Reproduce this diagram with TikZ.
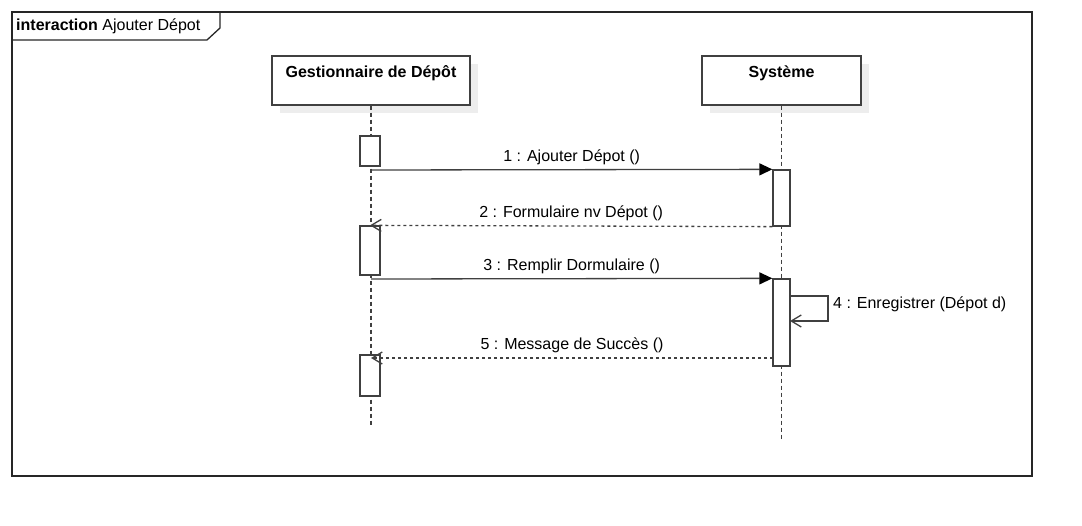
\documentclass[tikz,border=0pt]{standalone}
\usepackage{fontspec}
\setmainfont{Liberation Sans}
\usetikzlibrary{arrows.meta,shadows}

\begin{document}
\begin{tikzpicture}[x=1pt,y=-1pt,font=\fontsize{16}{19}\selectfont,
	lifebox/.style={draw=black!75,line width=1.3pt,fill=white,inner sep=0pt,text height=22pt,text depth=27pt,font=\fontsize{16}{19}\selectfont\bfseries,general shadow={fill=black!7,shadow xshift=8pt,shadow yshift=-8pt}},
	actbox/.style={draw=black!75,line width=1.3pt,fill=white,inner sep=0pt},
	lifeline/.style={draw=black!75,line width=1.3pt,dash pattern=on 4pt off 3pt},
	call/.style={draw=black!75,line width=1.3pt,-{Triangle[length=13pt,width=12pt,color=black]}},
	reply/.style={draw=black!75,line width=1.3pt,dash pattern=on 3pt off 3pt,-{Straight Barb[length=10pt,width=12pt]}},
	selfcall/.style={draw=black!75,line width=1.3pt,-{Straight Barb[length=10pt,width=12pt]}},
	msglabel/.style={anchor=base,yshift=8pt,inner sep=0pt}]
	%Page
		\useasboundingbox (0,0) rectangle (1082,526);
	%Frame
		%Border
		\draw [line width=1.3pt,black!85] (12,12) rectangle (1032,476);
		%Tab
		\draw [line width=1.3pt,black!85] (12,40) -- (207,40) -- (220,28) -- (220,12);
		\node (title) [anchor=base west,inner sep=0pt] at (16,31) {\textbf{interaction} Ajouter Dépot};
	%Heads
		%Gestionnaire
		\node (gest) [lifebox,minimum width=198pt] at (371,80.5) {Gestionnaire de Dépôt};
		%Systeme
		\node (sys) [lifebox,minimum width=159pt] at (781.5,80.5) {Système};
	%Lifelines
		\coordinate (gestend) at (371,425);
		\coordinate (sysend) at (781.5,440);
		\draw [lifeline] (gest.south) -- (gestend);
		\draw [lifeline] (sys.south) -- (sysend);
	%Activations
		%Gestionnaire
		\node (actg1) [actbox,minimum width=20pt,minimum height=30pt] at (370,151) {};
		\node (actg2) [actbox,minimum width=20pt,minimum height=49pt] at (370,250.5) {};
		\node (actg3) [actbox,minimum width=20pt,minimum height=41pt] at (370,375.5) {};
		%Systeme
		\node (acts1) [actbox,minimum width=17pt,minimum height=56pt] at (781.5,198) {};
		\node (acts2) [actbox,minimum width=17pt,minimum height=87pt] at (781.5,322.5) {};
	%Messages
		%Ajouter
		\coordinate (m1s) at (371,170);
		\draw [call] (m1s) -- (acts1.north west) node (lbl1) [msglabel,midway] {1 : Ajouter Dépot ()};
		%Formulaire
		\draw [reply] (acts1.south west) -- (actg2.north) node (lbl2) [msglabel,midway] {2 : Formulaire nv Dépot ()};
		%Remplir
		\coordinate (m3s) at (371,279);
		\draw [call] (m3s) -- (acts2.north west) node (lbl3) [msglabel,midway] {3 : Remplir Dormulaire ()};
		%Enregistrer
		\coordinate (m4s) at (790,296);
		\coordinate (m4e) at (790,321);
		\draw [selfcall] (m4s) -- ++(38,0) |- (m4e);
		\node (lbl4) [anchor=base west,inner sep=0pt] at (833,309) {4 : Enregistrer (Dépot d)};
		%Succes
		\coordinate (m5s) at (773,358);
		\coordinate (m5e) at (371,358);
		\draw [reply] (m5s) -- (m5e) node (lbl5) [msglabel,midway] {5 : Message de Succès ()};
\end{tikzpicture}
\end{document}
